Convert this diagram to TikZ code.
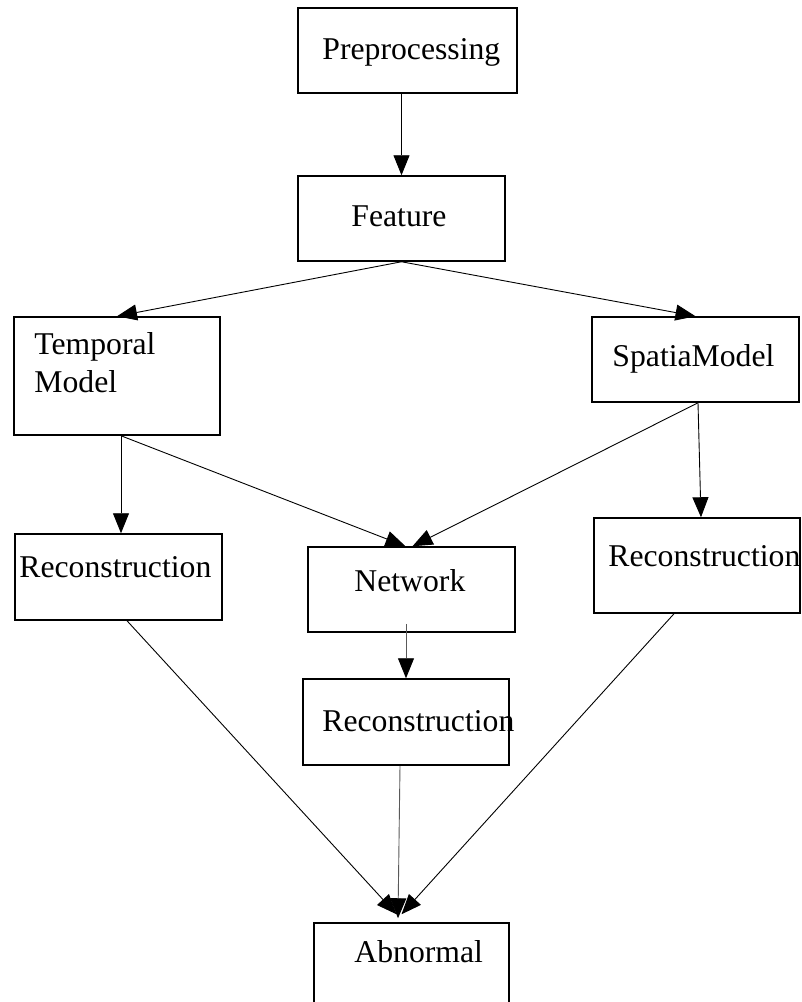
\documentclass[tikz,border=0pt]{standalone}
\usepackage{fontspec}
\setmainfont{Liberation Serif}
\usetikzlibrary{positioning,arrows.meta}

\begin{document}
\begin{tikzpicture}[x=1pt,y=-1pt,
    blk/.style={draw,line width=1.5pt,inner sep=0pt},
    txt/.style={inner sep=0pt,anchor=base west,font=\fontsize{31.7}{38}\selectfont},
    arr/.style={-{Triangle[length=20pt,width=16pt,color=black]},line width=0.9pt}]
    \useasboundingbox (0,0) rectangle (802,1002);

    % boxes
    \node[blk,minimum width=219pt,minimum height=85pt] (pre) at (407.5,50.5) {};
    \node[blk,minimum width=207pt,minimum height=85pt] (feat) at (401.5,218.5) {};
    \node[blk,minimum width=206pt,minimum height=118pt] (tm) at (117,376) {};
    \node[blk,minimum width=207pt,minimum height=85pt] (sp) at (695.5,359.5) {};
    \node[blk,minimum width=207pt,minimum height=86pt] (lrec) at (118.5,577) {};
    \node[blk,minimum width=207pt,minimum height=85pt] (net) at (411.5,589.5) {};
    \node[blk,minimum width=206pt,minimum height=95pt] (rrec) at (697,565.5) {};
    \node[blk,minimum width=206pt,minimum height=86pt] (mrec) at (406,722) {};
    \node[blk,minimum width=195pt,minimum height=100pt] (abn) at (411.5,973) {};

    % texts
    \node[txt] (pre-t) at ([shift={(25,52)}]pre.north west) {Preprocessing};
    \node[txt] (feat-t) at ([shift={(54,51)}]feat.north west) {Feature};
    \node[txt,anchor=north west,align=left] (tm-t) at ([shift={(21,16)}]tm.north west) {Temporal\\Model};
    \node[txt] (sp-t) at ([shift={(21,50)}]sp.north west) {SpatiaModel};
    \node[txt] (lrec-t) at ([shift={(5,44)}]lrec.north west) {Reconstruction};
    \node[txt] (net-t) at ([shift={(47,45)}]net.north west) {Network};
    \node[txt] (rrec-t) at ([shift={(15,49)}]rrec.north west) {Reconstruction};
    \node[txt] (mrec-t) at ([shift={(20,53)}]mrec.north west) {Reconstruction};
    \node[txt] (abn-t) at ([shift={(41,40)}]abn.north west) {Abnormal};

    % arrows
    \draw[arr] (feat.north |- pre.south) -- (feat.north);
    \draw[arr] (feat.south) -- (tm.north);
    \draw[arr] (feat.south) -- (sp.north);
    \draw[arr] ([xshift=4pt]tm.south) -- ([xshift=2.5pt]lrec.north);
    \draw[arr] ([xshift=4pt]tm.south) -- ([xshift=-6pt]net.north);
    \draw[arr] ([xshift=2.5pt]sp.south) -- ([xshift=1pt]net.north);
    \draw[arr] ([xshift=2.5pt]sp.south) -- ([xshift=4pt]rrec.north);
    \draw[arr,gray!70!black] ([xshift=-5.5pt,yshift=9pt]net.south) -- (mrec.north);
    \draw[arr] ([xshift=8.5pt]lrec.south) -- ([xshift=-15pt,yshift=8pt]abn.north);
    \draw[arr,gray!70!black] ([xshift=-6pt]mrec.south) -- ([xshift=-13.5pt,yshift=4pt]abn.north);
    \draw[arr] ([xshift=-23pt]rrec.south) -- ([xshift=-10pt,yshift=8pt]abn.north);
\end{tikzpicture}
\end{document}
